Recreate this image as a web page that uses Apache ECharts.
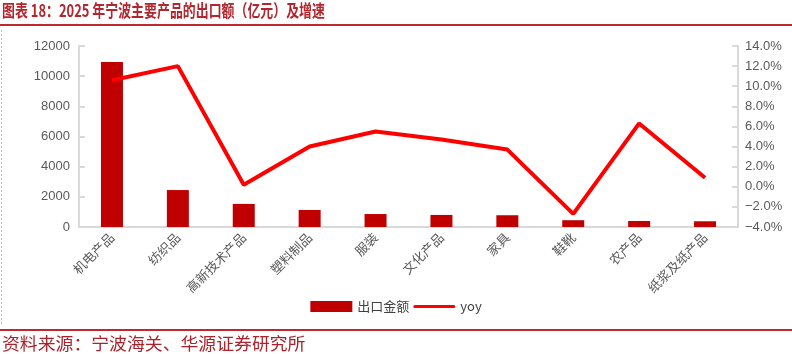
<!DOCTYPE html>
<html lang="zh">
<head>
    <meta charset="UTF-8">
    <script src="https://cdn.jsdelivr.net/npm/echarts@6/dist/echarts.min.js"></script>
    <style>
        html, body { margin: 0; padding: 0; background: #fff; }
        #chart { width: 792px; height: 354px; }
    </style>
</head>
<body>
<div id="chart"></div>
<script>
    // 2025年宁波主要产品出口额（亿元）及同比
    var categories = ['机电产品', '纺织品', '高新技术产品', '塑料制品', '服装', '文化产品', '家具', '鞋靴', '农产品', '纸浆及纸产品'];
    var exportValues = [10940, 2450, 1530, 1130, 860, 800, 780, 450, 400, 380];
    var yoyValues = [10.6, 12.0, 0.2, 4.0, 5.5, 4.7, 3.7, -2.7, 6.3, 0.9];

    var titleText = '图表 18：2025 年宁波主要产品的出口额（亿元）及增速';
    var sourceText = '资料来源：宁波海关、华源证券研究所';

    var axisGrey = '#d9d9d9';
    var labelGrey = '#595959';
    var cjk = '"Noto Sans CJK SC", "Noto Sans", sans-serif';

    var chart = echarts.init(document.getElementById('chart'));
    chart.setOption({
        backgroundColor: '#fff',
        animation: false,
        textStyle: { fontFamily: cjk },
        graphic: [
            {
                type: 'text', left: 2, top: 2, scaleX: 0.76,
                style: { text: titleText, fill: '#b3262d', font: 'bold 17px ' + cjk }
            },
            { type: 'rect', shape: { x: 0, y: 24, width: 792, height: 2 }, style: { fill: '#c0282f' } },
            {
                type: 'line', shape: { x1: 1.5, y1: 30, x2: 1.5, y2: 326 },
                style: { stroke: '#bfbfbf', lineWidth: 1, lineDash: [2, 2] }
            },
            { type: 'rect', shape: { x: 0, y: 329, width: 792, height: 2 }, style: { fill: '#c0282f' } },
            {
                type: 'text', left: 2, top: 335, scaleX: 1.05,
                style: { text: sourceText, fill: '#a8232b', font: '17px ' + cjk }
            }
        ],
        legend: {
            top: 295,
            left: 'center',
            itemGap: 4,
            itemWidth: 42,
            itemHeight: 11,
            textStyle: { color: '#404040', fontSize: 13 },
            data: [
                { name: '出口金额', icon: 'rect' },
                { name: 'yoy', icon: 'path://M1.5,0 L40.5,0 A1.5,1.5 0 0 1 40.5,3 L1.5,3 A1.5,1.5 0 0 1 1.5,0 Z' }
            ]
        },
        grid: { left: 79, right: 54, top: 46, bottom: 127 },
        xAxis: {
            type: 'category',
            data: categories,
            axisLine: { lineStyle: { color: axisGrey, width: 2 } },
            axisTick: { inside: true, length: 5, lineStyle: { color: axisGrey, width: 2 } },
            axisLabel: { rotate: 45, color: labelGrey, fontSize: 13, interval: 0, margin: 8 }
        },
        yAxis: [
            {
                type: 'value', min: 0, max: 12000, interval: 2000,
                splitLine: { show: false },
                axisLine: { show: true, lineStyle: { color: axisGrey, width: 2 } },
                axisTick: { show: true, inside: true, length: 6, lineStyle: { color: axisGrey, width: 2 } },
                axisLabel: {
                    color: labelGrey, fontSize: 13, fontFamily: 'Liberation Sans, Arial', margin: 9,
                    formatter: function (v) { return String(v); }
                }
            },
            {
                type: 'value', min: -4, max: 14, interval: 2,
                splitLine: { show: false },
                axisLine: { show: true, lineStyle: { color: axisGrey, width: 2 } },
                axisTick: { show: true, inside: true, length: 6, lineStyle: { color: axisGrey, width: 2 } },
                axisLabel: {
                    color: labelGrey, fontSize: 13, fontFamily: 'Liberation Sans, Arial', margin: 7,
                    formatter: function (v) { return (v < 0 ? '\u2212' : '') + Math.abs(v).toFixed(1) + '%'; }
                }
            }
        ],
        series: [
            {
                name: '出口金额',
                type: 'bar',
                data: exportValues,
                barWidth: 22,
                itemStyle: { color: '#c00000' }
            },
            {
                name: 'yoy',
                type: 'line',
                yAxisIndex: 1,
                data: yoyValues,
                symbol: 'none',
                lineStyle: { color: '#ff0000', width: 4 },
                itemStyle: { color: '#ff0000' }
            }
        ]
    });
</script>
</body>
</html>
